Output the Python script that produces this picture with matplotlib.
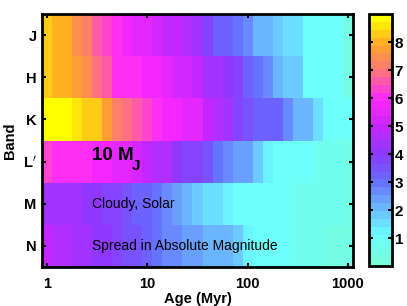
import numpy as np
import matplotlib
matplotlib.use('Agg')
import matplotlib.pyplot as plt
from matplotlib.colors import LinearSegmentedColormap

plt.rcParams['font.family'] = ['Liberation Sans', 'DejaVu Sans']

# Ages (Myr), 0.1 dex grid from 1 to 1000
ages = 10 ** (np.arange(31) / 10.0)
bands = ['J', 'H', 'K', 'L$^{\\prime}$', 'M', 'N']

# spread in absolute magnitude per band
J = [8.2, 8.0, 8.0, 7.5, 7.1, 6.7, 6.3, 6.0, 5.8, 5.6, 5.4, 5.2, 5.0, 4.8, 4.6, 4.4,
     3.8, 3.2, 3.1, 2.9, 2.6, 2.2, 2.0, 1.7, 1.6, 1.5, 1.0, 1.0, 0.9, 0.9, 0.5]
H = [8.4, 8.1, 7.9, 7.8, 7.4, 7.0, 6.5, 6.1, 6.0, 5.95, 5.9, 5.8, 5.5, 5.3, 5.1, 4.8,
     4.4, 4.3, 4.0, 3.7, 3.3, 3.0, 2.8, 2.0, 1.9, 1.8, 1.0, 1.0, 0.9, 0.9, 0.5]
K = [9.0, 9.0, 8.8, 8.6, 8.3, 8.3, 7.7, 7.3, 6.9, 6.6, 6.3, 6.1, 5.9, 5.8, 5.6, 5.5,
     5.0, 4.7, 4.4, 3.9, 3.5, 3.3, 3.2, 3.1, 2.8, 2.2, 2.1, 1.6, 1.0, 1.0, 1.0]
Lp = [6.4, 6.1, 6.1, 6.0, 6.0, 5.9, 5.8, 5.6, 5.4, 5.1, 4.9, 4.7, 4.5, 4.2, 3.9, 3.7,
      3.4, 3.0, 2.8, 2.5, 2.3, 1.9, 1.4, 1.1, 1.0, 1.0, 0.9, 0.8, 0.7, 0.6, 0.5]
M = [4.4, 4.4, 4.3, 4.3, 4.2, 4.1, 3.9, 3.7, 3.5, 3.3, 3.1, 2.9, 2.6, 2.4, 2.0, 1.9,
     1.6, 1.5, 1.3, 1.1, 1.0, 1.0, 1.0, 1.0, 0.9, 0.7, 0.7, 0.6, 0.6, 0.6, 0.5]
N = [4.9, 4.5, 4.5, 4.3, 4.3, 4.2, 4.1, 3.9, 3.6, 3.4, 3.1, 3.0, 2.8, 2.7, 2.5, 2.4,
     2.1, 2.0, 2.0, 1.9, 1.3, 1.1, 1.0, 1.0, 1.0, 0.8, 0.6, 0.6, 0.5, 0.5, 0.5]

spread = np.array([J, H, K, Lp, M, N])

# colour map: aquamarine -> cyan -> blue -> purple -> magenta -> orange -> yellow
anchors = [
    (0.0, (0.47, 1.0, 0.85)),
    (1.0, (0.42, 1.0, 1.0)),
    (2.0, (0.42, 0.72, 1.0)),
    (3.0, (0.40, 0.42, 1.0)),
    (4.0, (0.55, 0.22, 1.0)),
    (5.0, (0.78, 0.15, 1.0)),
    (6.0, (1.0, 0.15, 1.0)),
    (7.0, (1.0, 0.45, 0.5)),
    (8.0, (1.0, 0.65, 0.15)),
    (9.0, (1.0, 1.0, 0.0)),
]
cmap = LinearSegmentedColormap.from_list('spread', [(v / 9.0, c) for v, c in anchors], N=32)

edges_x = 10 ** ((np.arange(32) - 0.5) / 10.0)
edges_y = np.arange(7) - 0.5

fig = plt.figure(figsize=(4.07, 3.06), dpi=100)
ax = fig.add_axes([42 / 407, 39 / 306, 311 / 407, 253 / 306])
cax = fig.add_axes([369 / 407, 40 / 306, 23 / 407, 252 / 306])

mesh = ax.pcolormesh(edges_x, edges_y, spread, cmap=cmap, vmin=0, vmax=9)
ax.set_xscale('log')
ax.set_xlim(edges_x[0], edges_x[-1])
ax.set_ylim(5.5, -0.5)
ax.set_xticks([1, 10, 100, 1000])
ax.set_xticklabels(['1', '10', '100', '1000'])
ax.minorticks_off()
ax.set_yticks(range(6))
ax.set_yticklabels(bands)
ax.tick_params(direction='in', top=True, right=True, length=3, width=1.5, labelsize=10.5)
ax.tick_params(axis='x', pad=7)
ax.tick_params(axis='y', pad=4)
for lab in ax.get_xticklabels() + ax.get_yticklabels():
    lab.set_fontweight('bold')
for sp in ax.spines.values():
    sp.set_linewidth(2)
ax.set_xlabel('Age (Myr)', fontsize=10.5, fontweight='bold', labelpad=1)
ax.set_ylabel('Band', fontsize=10.5, fontweight='bold', labelpad=4)

ax.text(2.8, 2.85, '10 M', fontsize=13.5, fontweight='bold', va='center', ha='left')
ax.text(7.0, 3.1, 'J', fontsize=11, fontweight='bold', va='center', ha='left')
ax.text(2.8, 4.0, 'Cloudy, Solar', fontsize=10, va='center', ha='left')
ax.text(2.8, 5.0, 'Spread in Absolute Magnitude', fontsize=10, va='center', ha='left')

cb = fig.colorbar(mesh, cax=cax)
cb.set_ticks(range(1, 9))
cax.tick_params(direction='in', left=True, right=True, length=3, width=1.5, labelsize=11, pad=2)
for lab in cax.get_yticklabels():
    lab.set_fontweight('bold')
cb.outline.set_linewidth(2)

fig.savefig('out.png', dpi=100)
